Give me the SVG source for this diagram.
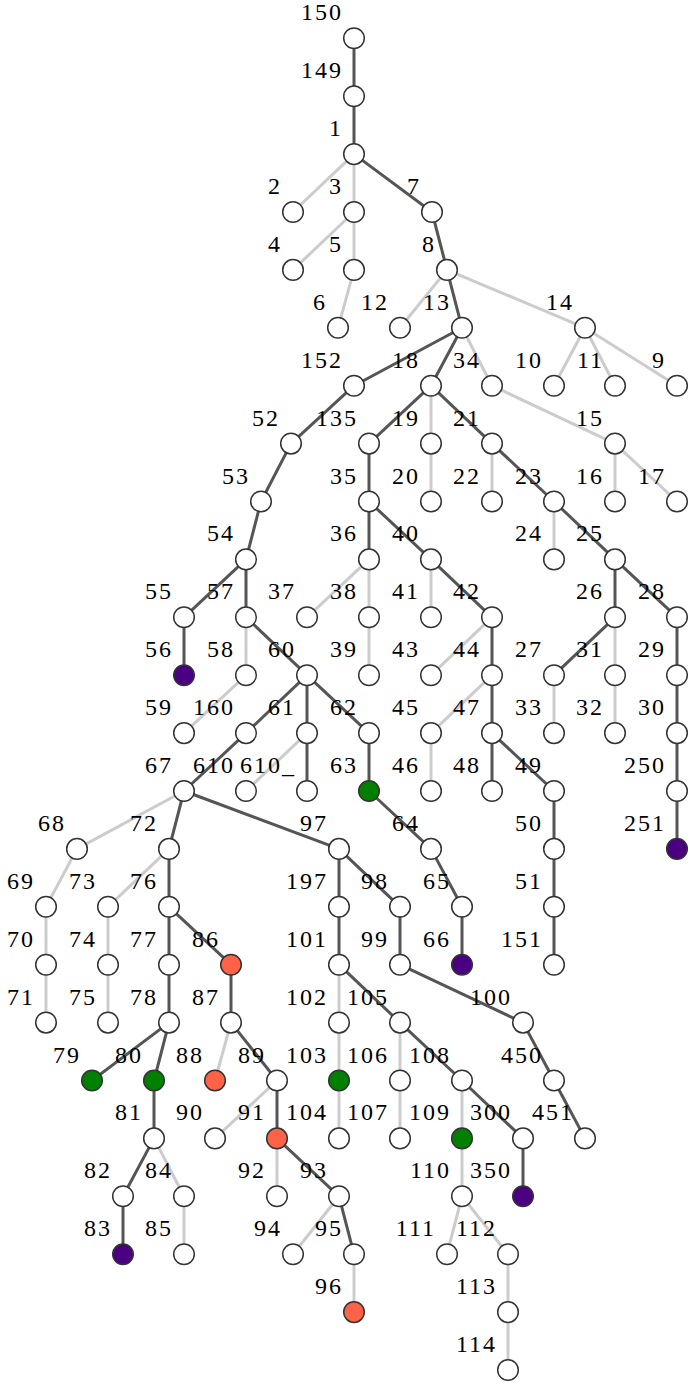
<svg xmlns="http://www.w3.org/2000/svg" width="691" height="1384" viewBox="0 0 691 1384">
<style>
.d{stroke:#555;stroke-width:3}
.l{stroke:#ccc;stroke-width:3}
.n circle{fill:#fff;stroke:#333;stroke-width:1.5}
.g circle{fill:#008000}
.p circle{fill:#4b0082}
.r circle{fill:#ff6347}
</style>
<rect width="691" height="1384" fill="#fff"/>
<g id="connectors">
<line class="d" x1="354" y1="38.3" x2="354" y2="96.2"/>
<line class="d" x1="354" y1="96.2" x2="354" y2="154.1"/>
<line class="l" x1="354" y1="154.1" x2="293" y2="212"/>
<line class="l" x1="354" y1="154.1" x2="354" y2="212"/>
<line class="d" x1="354" y1="154.1" x2="432" y2="212"/>
<line class="l" x1="354" y1="212" x2="293" y2="269.9"/>
<line class="l" x1="354" y1="212" x2="354" y2="269.9"/>
<line class="d" x1="432" y1="212" x2="447" y2="269.9"/>
<line class="l" x1="354" y1="269.9" x2="338" y2="327.8"/>
<line class="l" x1="447" y1="269.9" x2="400" y2="327.8"/>
<line class="d" x1="447" y1="269.9" x2="462" y2="327.8"/>
<line class="l" x1="447" y1="269.9" x2="585" y2="327.8"/>
<line class="d" x1="462" y1="327.8" x2="354" y2="385.7"/>
<line class="d" x1="462" y1="327.8" x2="431" y2="385.7"/>
<line class="l" x1="462" y1="327.8" x2="492" y2="385.7"/>
<line class="l" x1="585" y1="327.8" x2="554" y2="385.7"/>
<line class="l" x1="585" y1="327.8" x2="615" y2="385.7"/>
<line class="l" x1="585" y1="327.8" x2="677" y2="385.7"/>
<line class="d" x1="354" y1="385.7" x2="291" y2="443.6"/>
<line class="d" x1="431" y1="385.7" x2="369" y2="443.6"/>
<line class="l" x1="431" y1="385.7" x2="431" y2="443.6"/>
<line class="d" x1="431" y1="385.7" x2="492" y2="443.6"/>
<line class="l" x1="492" y1="385.7" x2="615" y2="443.6"/>
<line class="d" x1="291" y1="443.6" x2="261" y2="501.5"/>
<line class="d" x1="369" y1="443.6" x2="369" y2="501.5"/>
<line class="l" x1="431" y1="443.6" x2="431" y2="501.5"/>
<line class="l" x1="492" y1="443.6" x2="492" y2="501.5"/>
<line class="d" x1="492" y1="443.6" x2="554" y2="501.5"/>
<line class="l" x1="615" y1="443.6" x2="615" y2="501.5"/>
<line class="l" x1="615" y1="443.6" x2="677" y2="501.5"/>
<line class="d" x1="261" y1="501.5" x2="246" y2="559.4"/>
<line class="d" x1="369" y1="501.5" x2="369" y2="559.4"/>
<line class="d" x1="369" y1="501.5" x2="431" y2="559.4"/>
<line class="l" x1="554" y1="501.5" x2="554" y2="559.4"/>
<line class="d" x1="554" y1="501.5" x2="615" y2="559.4"/>
<line class="d" x1="246" y1="559.4" x2="184" y2="617.3"/>
<line class="d" x1="246" y1="559.4" x2="246" y2="617.3"/>
<line class="l" x1="369" y1="559.4" x2="307" y2="617.3"/>
<line class="l" x1="369" y1="559.4" x2="369" y2="617.3"/>
<line class="l" x1="431" y1="559.4" x2="431" y2="617.3"/>
<line class="d" x1="431" y1="559.4" x2="492" y2="617.3"/>
<line class="d" x1="615" y1="559.4" x2="615" y2="617.3"/>
<line class="d" x1="615" y1="559.4" x2="677" y2="617.3"/>
<line class="d" x1="184" y1="617.3" x2="184" y2="675.2"/>
<line class="l" x1="246" y1="617.3" x2="246" y2="675.2"/>
<line class="d" x1="246" y1="617.3" x2="307" y2="675.2"/>
<line class="l" x1="369" y1="617.3" x2="369" y2="675.2"/>
<line class="l" x1="492" y1="617.3" x2="431" y2="675.2"/>
<line class="d" x1="492" y1="617.3" x2="492" y2="675.2"/>
<line class="d" x1="615" y1="617.3" x2="554" y2="675.2"/>
<line class="l" x1="615" y1="617.3" x2="615" y2="675.2"/>
<line class="d" x1="677" y1="617.3" x2="677" y2="675.2"/>
<line class="l" x1="246" y1="675.2" x2="184" y2="733.1"/>
<line class="d" x1="307" y1="675.2" x2="246" y2="733.1"/>
<line class="d" x1="307" y1="675.2" x2="307" y2="733.1"/>
<line class="d" x1="307" y1="675.2" x2="369" y2="733.1"/>
<line class="l" x1="492" y1="675.2" x2="431" y2="733.1"/>
<line class="d" x1="492" y1="675.2" x2="492" y2="733.1"/>
<line class="l" x1="554" y1="675.2" x2="554" y2="733.1"/>
<line class="l" x1="615" y1="675.2" x2="615" y2="733.1"/>
<line class="d" x1="677" y1="675.2" x2="677" y2="733.1"/>
<line class="d" x1="246" y1="733.1" x2="184" y2="791"/>
<line class="l" x1="307" y1="733.1" x2="246" y2="791"/>
<line class="d" x1="307" y1="733.1" x2="307" y2="791"/>
<line class="d" x1="369" y1="733.1" x2="369" y2="791"/>
<line class="l" x1="431" y1="733.1" x2="431" y2="791"/>
<line class="d" x1="492" y1="733.1" x2="492" y2="791"/>
<line class="d" x1="492" y1="733.1" x2="554" y2="791"/>
<line class="d" x1="677" y1="733.1" x2="677" y2="791"/>
<line class="l" x1="184" y1="791" x2="77" y2="848.9"/>
<line class="d" x1="184" y1="791" x2="169" y2="848.9"/>
<line class="d" x1="184" y1="791" x2="339" y2="848.9"/>
<line class="d" x1="369" y1="791" x2="431" y2="848.9"/>
<line class="d" x1="554" y1="791" x2="554" y2="848.9"/>
<line class="d" x1="677" y1="791" x2="677" y2="848.9"/>
<line class="l" x1="77" y1="848.9" x2="46" y2="906.8"/>
<line class="l" x1="169" y1="848.9" x2="108" y2="906.8"/>
<line class="d" x1="169" y1="848.9" x2="169" y2="906.8"/>
<line class="d" x1="339" y1="848.9" x2="339" y2="906.8"/>
<line class="d" x1="339" y1="848.9" x2="400" y2="906.8"/>
<line class="d" x1="431" y1="848.9" x2="462" y2="906.8"/>
<line class="d" x1="554" y1="848.9" x2="554" y2="906.8"/>
<line class="l" x1="46" y1="906.8" x2="46" y2="964.7"/>
<line class="l" x1="108" y1="906.8" x2="108" y2="964.7"/>
<line class="d" x1="169" y1="906.8" x2="169" y2="964.7"/>
<line class="d" x1="169" y1="906.8" x2="231" y2="964.7"/>
<line class="d" x1="339" y1="906.8" x2="339" y2="964.7"/>
<line class="d" x1="400" y1="906.8" x2="400" y2="964.7"/>
<line class="d" x1="462" y1="906.8" x2="462" y2="964.7"/>
<line class="d" x1="554" y1="906.8" x2="554" y2="964.7"/>
<line class="l" x1="46" y1="964.7" x2="46" y2="1022.6"/>
<line class="l" x1="108" y1="964.7" x2="108" y2="1022.6"/>
<line class="d" x1="169" y1="964.7" x2="169" y2="1022.6"/>
<line class="d" x1="231" y1="964.7" x2="231" y2="1022.6"/>
<line class="l" x1="339" y1="964.7" x2="339" y2="1022.6"/>
<line class="d" x1="339" y1="964.7" x2="400" y2="1022.6"/>
<line class="d" x1="400" y1="964.7" x2="523" y2="1022.6"/>
<line class="d" x1="169" y1="1022.6" x2="92" y2="1080.5"/>
<line class="d" x1="169" y1="1022.6" x2="154" y2="1080.5"/>
<line class="l" x1="231" y1="1022.6" x2="215" y2="1080.5"/>
<line class="d" x1="231" y1="1022.6" x2="277" y2="1080.5"/>
<line class="l" x1="339" y1="1022.6" x2="339" y2="1080.5"/>
<line class="l" x1="400" y1="1022.6" x2="400" y2="1080.5"/>
<line class="d" x1="400" y1="1022.6" x2="462" y2="1080.5"/>
<line class="d" x1="523" y1="1022.6" x2="554" y2="1080.5"/>
<line class="d" x1="154" y1="1080.5" x2="154" y2="1138.4"/>
<line class="l" x1="277" y1="1080.5" x2="215" y2="1138.4"/>
<line class="d" x1="277" y1="1080.5" x2="277" y2="1138.4"/>
<line class="l" x1="339" y1="1080.5" x2="339" y2="1138.4"/>
<line class="l" x1="400" y1="1080.5" x2="400" y2="1138.4"/>
<line class="l" x1="462" y1="1080.5" x2="462" y2="1138.4"/>
<line class="d" x1="462" y1="1080.5" x2="523" y2="1138.4"/>
<line class="d" x1="554" y1="1080.5" x2="585" y2="1138.4"/>
<line class="d" x1="154" y1="1138.4" x2="123" y2="1196.3"/>
<line class="l" x1="154" y1="1138.4" x2="184" y2="1196.3"/>
<line class="l" x1="277" y1="1138.4" x2="277" y2="1196.3"/>
<line class="d" x1="277" y1="1138.4" x2="339" y2="1196.3"/>
<line class="l" x1="462" y1="1138.4" x2="462" y2="1196.3"/>
<line class="d" x1="523" y1="1138.4" x2="523" y2="1196.3"/>
<line class="d" x1="123" y1="1196.3" x2="123" y2="1254.2"/>
<line class="l" x1="184" y1="1196.3" x2="184" y2="1254.2"/>
<line class="l" x1="339" y1="1196.3" x2="293" y2="1254.2"/>
<line class="d" x1="339" y1="1196.3" x2="354" y2="1254.2"/>
<line class="l" x1="462" y1="1196.3" x2="447" y2="1254.2"/>
<line class="l" x1="462" y1="1196.3" x2="508" y2="1254.2"/>
<line class="l" x1="354" y1="1254.2" x2="354" y2="1312.1"/>
<line class="l" x1="508" y1="1254.2" x2="508" y2="1312.1"/>
<line class="l" x1="508" y1="1312.1" x2="508" y2="1370"/>
</g>
<g id="nodes" font-family="Liberation Serif, Times New Roman, serif" font-size="24" letter-spacing="2" fill="#000" text-anchor="end">
<g id="n150" class="n" transform="translate(354,38.3)"><circle r="10.3"/><text x="-11" y="-18">150</text></g>
<g id="n149" class="n" transform="translate(354,96.2)"><circle r="10.3"/><text x="-11" y="-18">149</text></g>
<g id="n1" class="n" transform="translate(354,154.1)"><circle r="10.3"/><text x="-11" y="-18">1</text></g>
<g id="n2" class="n" transform="translate(293,212)"><circle r="10.3"/><text x="-11" y="-18">2</text></g>
<g id="n3" class="n" transform="translate(354,212)"><circle r="10.3"/><text x="-11" y="-18">3</text></g>
<g id="n7" class="n" transform="translate(432,212)"><circle r="10.3"/><text x="-11" y="-18">7</text></g>
<g id="n4" class="n" transform="translate(293,269.9)"><circle r="10.3"/><text x="-11" y="-18">4</text></g>
<g id="n5" class="n" transform="translate(354,269.9)"><circle r="10.3"/><text x="-11" y="-18">5</text></g>
<g id="n8" class="n" transform="translate(447,269.9)"><circle r="10.3"/><text x="-11" y="-18">8</text></g>
<g id="n6" class="n" transform="translate(338,327.8)"><circle r="10.3"/><text x="-11" y="-18">6</text></g>
<g id="n12" class="n" transform="translate(400,327.8)"><circle r="10.3"/><text x="-11" y="-18">12</text></g>
<g id="n13" class="n" transform="translate(462,327.8)"><circle r="10.3"/><text x="-11" y="-18">13</text></g>
<g id="n14" class="n" transform="translate(585,327.8)"><circle r="10.3"/><text x="-11" y="-18">14</text></g>
<g id="n152" class="n" transform="translate(354,385.7)"><circle r="10.3"/><text x="-11" y="-18">152</text></g>
<g id="n18" class="n" transform="translate(431,385.7)"><circle r="10.3"/><text x="-11" y="-18">18</text></g>
<g id="n34" class="n" transform="translate(492,385.7)"><circle r="10.3"/><text x="-11" y="-18">34</text></g>
<g id="n10" class="n" transform="translate(554,385.7)"><circle r="10.3"/><text x="-11" y="-18">10</text></g>
<g id="n11" class="n" transform="translate(615,385.7)"><circle r="10.3"/><text x="-11" y="-18">11</text></g>
<g id="n9" class="n" transform="translate(677,385.7)"><circle r="10.3"/><text x="-11" y="-18">9</text></g>
<g id="n52" class="n" transform="translate(291,443.6)"><circle r="10.3"/><text x="-11" y="-18">52</text></g>
<g id="n135" class="n" transform="translate(369,443.6)"><circle r="10.3"/><text x="-11" y="-18">135</text></g>
<g id="n19" class="n" transform="translate(431,443.6)"><circle r="10.3"/><text x="-11" y="-18">19</text></g>
<g id="n21" class="n" transform="translate(492,443.6)"><circle r="10.3"/><text x="-11" y="-18">21</text></g>
<g id="n15" class="n" transform="translate(615,443.6)"><circle r="10.3"/><text x="-11" y="-18">15</text></g>
<g id="n53" class="n" transform="translate(261,501.5)"><circle r="10.3"/><text x="-11" y="-18">53</text></g>
<g id="n35" class="n" transform="translate(369,501.5)"><circle r="10.3"/><text x="-11" y="-18">35</text></g>
<g id="n20" class="n" transform="translate(431,501.5)"><circle r="10.3"/><text x="-11" y="-18">20</text></g>
<g id="n22" class="n" transform="translate(492,501.5)"><circle r="10.3"/><text x="-11" y="-18">22</text></g>
<g id="n23" class="n" transform="translate(554,501.5)"><circle r="10.3"/><text x="-11" y="-18">23</text></g>
<g id="n16" class="n" transform="translate(615,501.5)"><circle r="10.3"/><text x="-11" y="-18">16</text></g>
<g id="n17" class="n" transform="translate(677,501.5)"><circle r="10.3"/><text x="-11" y="-18">17</text></g>
<g id="n54" class="n" transform="translate(246,559.4)"><circle r="10.3"/><text x="-11" y="-18">54</text></g>
<g id="n36" class="n" transform="translate(369,559.4)"><circle r="10.3"/><text x="-11" y="-18">36</text></g>
<g id="n40" class="n" transform="translate(431,559.4)"><circle r="10.3"/><text x="-11" y="-18">40</text></g>
<g id="n24" class="n" transform="translate(554,559.4)"><circle r="10.3"/><text x="-11" y="-18">24</text></g>
<g id="n25" class="n" transform="translate(615,559.4)"><circle r="10.3"/><text x="-11" y="-18">25</text></g>
<g id="n55" class="n" transform="translate(184,617.3)"><circle r="10.3"/><text x="-11" y="-18">55</text></g>
<g id="n57" class="n" transform="translate(246,617.3)"><circle r="10.3"/><text x="-11" y="-18">57</text></g>
<g id="n37" class="n" transform="translate(307,617.3)"><circle r="10.3"/><text x="-11" y="-18">37</text></g>
<g id="n38" class="n" transform="translate(369,617.3)"><circle r="10.3"/><text x="-11" y="-18">38</text></g>
<g id="n41" class="n" transform="translate(431,617.3)"><circle r="10.3"/><text x="-11" y="-18">41</text></g>
<g id="n42" class="n" transform="translate(492,617.3)"><circle r="10.3"/><text x="-11" y="-18">42</text></g>
<g id="n26" class="n" transform="translate(615,617.3)"><circle r="10.3"/><text x="-11" y="-18">26</text></g>
<g id="n28" class="n" transform="translate(677,617.3)"><circle r="10.3"/><text x="-11" y="-18">28</text></g>
<g id="n56" class="n p" transform="translate(184,675.2)"><circle r="10.3"/><text x="-11" y="-18">56</text></g>
<g id="n58" class="n" transform="translate(246,675.2)"><circle r="10.3"/><text x="-11" y="-18">58</text></g>
<g id="n60" class="n" transform="translate(307,675.2)"><circle r="10.3"/><text x="-11" y="-18">60</text></g>
<g id="n39" class="n" transform="translate(369,675.2)"><circle r="10.3"/><text x="-11" y="-18">39</text></g>
<g id="n43" class="n" transform="translate(431,675.2)"><circle r="10.3"/><text x="-11" y="-18">43</text></g>
<g id="n44" class="n" transform="translate(492,675.2)"><circle r="10.3"/><text x="-11" y="-18">44</text></g>
<g id="n27" class="n" transform="translate(554,675.2)"><circle r="10.3"/><text x="-11" y="-18">27</text></g>
<g id="n31" class="n" transform="translate(615,675.2)"><circle r="10.3"/><text x="-11" y="-18">31</text></g>
<g id="n29" class="n" transform="translate(677,675.2)"><circle r="10.3"/><text x="-11" y="-18">29</text></g>
<g id="n59" class="n" transform="translate(184,733.1)"><circle r="10.3"/><text x="-11" y="-18">59</text></g>
<g id="n160" class="n" transform="translate(246,733.1)"><circle r="10.3"/><text x="-11" y="-18">160</text></g>
<g id="n61" class="n" transform="translate(307,733.1)"><circle r="10.3"/><text x="-11" y="-18">61</text></g>
<g id="n62" class="n" transform="translate(369,733.1)"><circle r="10.3"/><text x="-11" y="-18">62</text></g>
<g id="n45" class="n" transform="translate(431,733.1)"><circle r="10.3"/><text x="-11" y="-18">45</text></g>
<g id="n47" class="n" transform="translate(492,733.1)"><circle r="10.3"/><text x="-11" y="-18">47</text></g>
<g id="n33" class="n" transform="translate(554,733.1)"><circle r="10.3"/><text x="-11" y="-18">33</text></g>
<g id="n32" class="n" transform="translate(615,733.1)"><circle r="10.3"/><text x="-11" y="-18">32</text></g>
<g id="n30" class="n" transform="translate(677,733.1)"><circle r="10.3"/><text x="-11" y="-18">30</text></g>
<g id="n67" class="n" transform="translate(184,791)"><circle r="10.3"/><text x="-11" y="-18">67</text></g>
<g id="n610" class="n" transform="translate(246,791)"><circle r="10.3"/><text x="-11" y="-18">610</text></g>
<g id="n610_" class="n" transform="translate(307,791)"><circle r="10.3"/><text x="-11" y="-18">610_</text></g>
<g id="n63" class="n g" transform="translate(369,791)"><circle r="10.3"/><text x="-11" y="-18">63</text></g>
<g id="n46" class="n" transform="translate(431,791)"><circle r="10.3"/><text x="-11" y="-18">46</text></g>
<g id="n48" class="n" transform="translate(492,791)"><circle r="10.3"/><text x="-11" y="-18">48</text></g>
<g id="n49" class="n" transform="translate(554,791)"><circle r="10.3"/><text x="-11" y="-18">49</text></g>
<g id="n250" class="n" transform="translate(677,791)"><circle r="10.3"/><text x="-11" y="-18">250</text></g>
<g id="n68" class="n" transform="translate(77,848.9)"><circle r="10.3"/><text x="-11" y="-18">68</text></g>
<g id="n72" class="n" transform="translate(169,848.9)"><circle r="10.3"/><text x="-11" y="-18">72</text></g>
<g id="n97" class="n" transform="translate(339,848.9)"><circle r="10.3"/><text x="-11" y="-18">97</text></g>
<g id="n64" class="n" transform="translate(431,848.9)"><circle r="10.3"/><text x="-11" y="-18">64</text></g>
<g id="n50" class="n" transform="translate(554,848.9)"><circle r="10.3"/><text x="-11" y="-18">50</text></g>
<g id="n251" class="n p" transform="translate(677,848.9)"><circle r="10.3"/><text x="-11" y="-18">251</text></g>
<g id="n69" class="n" transform="translate(46,906.8)"><circle r="10.3"/><text x="-11" y="-18">69</text></g>
<g id="n73" class="n" transform="translate(108,906.8)"><circle r="10.3"/><text x="-11" y="-18">73</text></g>
<g id="n76" class="n" transform="translate(169,906.8)"><circle r="10.3"/><text x="-11" y="-18">76</text></g>
<g id="n197" class="n" transform="translate(339,906.8)"><circle r="10.3"/><text x="-11" y="-18">197</text></g>
<g id="n98" class="n" transform="translate(400,906.8)"><circle r="10.3"/><text x="-11" y="-18">98</text></g>
<g id="n65" class="n" transform="translate(462,906.8)"><circle r="10.3"/><text x="-11" y="-18">65</text></g>
<g id="n51" class="n" transform="translate(554,906.8)"><circle r="10.3"/><text x="-11" y="-18">51</text></g>
<g id="n70" class="n" transform="translate(46,964.7)"><circle r="10.3"/><text x="-11" y="-18">70</text></g>
<g id="n74" class="n" transform="translate(108,964.7)"><circle r="10.3"/><text x="-11" y="-18">74</text></g>
<g id="n77" class="n" transform="translate(169,964.7)"><circle r="10.3"/><text x="-11" y="-18">77</text></g>
<g id="n86" class="n r" transform="translate(231,964.7)"><circle r="10.3"/><text x="-11" y="-18">86</text></g>
<g id="n101" class="n" transform="translate(339,964.7)"><circle r="10.3"/><text x="-11" y="-18">101</text></g>
<g id="n99" class="n" transform="translate(400,964.7)"><circle r="10.3"/><text x="-11" y="-18">99</text></g>
<g id="n66" class="n p" transform="translate(462,964.7)"><circle r="10.3"/><text x="-11" y="-18">66</text></g>
<g id="n151" class="n" transform="translate(554,964.7)"><circle r="10.3"/><text x="-11" y="-18">151</text></g>
<g id="n71" class="n" transform="translate(46,1022.6)"><circle r="10.3"/><text x="-11" y="-18">71</text></g>
<g id="n75" class="n" transform="translate(108,1022.6)"><circle r="10.3"/><text x="-11" y="-18">75</text></g>
<g id="n78" class="n" transform="translate(169,1022.6)"><circle r="10.3"/><text x="-11" y="-18">78</text></g>
<g id="n87" class="n" transform="translate(231,1022.6)"><circle r="10.3"/><text x="-11" y="-18">87</text></g>
<g id="n102" class="n" transform="translate(339,1022.6)"><circle r="10.3"/><text x="-11" y="-18">102</text></g>
<g id="n105" class="n" transform="translate(400,1022.6)"><circle r="10.3"/><text x="-11" y="-18">105</text></g>
<g id="n100" class="n" transform="translate(523,1022.6)"><circle r="10.3"/><text x="-11" y="-18">100</text></g>
<g id="n79" class="n g" transform="translate(92,1080.5)"><circle r="10.3"/><text x="-11" y="-18">79</text></g>
<g id="n80" class="n g" transform="translate(154,1080.5)"><circle r="10.3"/><text x="-11" y="-18">80</text></g>
<g id="n88" class="n r" transform="translate(215,1080.5)"><circle r="10.3"/><text x="-11" y="-18">88</text></g>
<g id="n89" class="n" transform="translate(277,1080.5)"><circle r="10.3"/><text x="-11" y="-18">89</text></g>
<g id="n103" class="n g" transform="translate(339,1080.5)"><circle r="10.3"/><text x="-11" y="-18">103</text></g>
<g id="n106" class="n" transform="translate(400,1080.5)"><circle r="10.3"/><text x="-11" y="-18">106</text></g>
<g id="n108" class="n" transform="translate(462,1080.5)"><circle r="10.3"/><text x="-11" y="-18">108</text></g>
<g id="n450" class="n" transform="translate(554,1080.5)"><circle r="10.3"/><text x="-11" y="-18">450</text></g>
<g id="n81" class="n" transform="translate(154,1138.4)"><circle r="10.3"/><text x="-11" y="-18">81</text></g>
<g id="n90" class="n" transform="translate(215,1138.4)"><circle r="10.3"/><text x="-11" y="-18">90</text></g>
<g id="n91" class="n r" transform="translate(277,1138.4)"><circle r="10.3"/><text x="-11" y="-18">91</text></g>
<g id="n104" class="n" transform="translate(339,1138.4)"><circle r="10.3"/><text x="-11" y="-18">104</text></g>
<g id="n107" class="n" transform="translate(400,1138.4)"><circle r="10.3"/><text x="-11" y="-18">107</text></g>
<g id="n109" class="n g" transform="translate(462,1138.4)"><circle r="10.3"/><text x="-11" y="-18">109</text></g>
<g id="n300" class="n" transform="translate(523,1138.4)"><circle r="10.3"/><text x="-11" y="-18">300</text></g>
<g id="n451" class="n" transform="translate(585,1138.4)"><circle r="10.3"/><text x="-11" y="-18">451</text></g>
<g id="n82" class="n" transform="translate(123,1196.3)"><circle r="10.3"/><text x="-11" y="-18">82</text></g>
<g id="n84" class="n" transform="translate(184,1196.3)"><circle r="10.3"/><text x="-11" y="-18">84</text></g>
<g id="n92" class="n" transform="translate(277,1196.3)"><circle r="10.3"/><text x="-11" y="-18">92</text></g>
<g id="n93" class="n" transform="translate(339,1196.3)"><circle r="10.3"/><text x="-11" y="-18">93</text></g>
<g id="n110" class="n" transform="translate(462,1196.3)"><circle r="10.3"/><text x="-11" y="-18">110</text></g>
<g id="n350" class="n p" transform="translate(523,1196.3)"><circle r="10.3"/><text x="-11" y="-18">350</text></g>
<g id="n83" class="n p" transform="translate(123,1254.2)"><circle r="10.3"/><text x="-11" y="-18">83</text></g>
<g id="n85" class="n" transform="translate(184,1254.2)"><circle r="10.3"/><text x="-11" y="-18">85</text></g>
<g id="n94" class="n" transform="translate(293,1254.2)"><circle r="10.3"/><text x="-11" y="-18">94</text></g>
<g id="n95" class="n" transform="translate(354,1254.2)"><circle r="10.3"/><text x="-11" y="-18">95</text></g>
<g id="n111" class="n" transform="translate(447,1254.2)"><circle r="10.3"/><text x="-11" y="-18">111</text></g>
<g id="n112" class="n" transform="translate(508,1254.2)"><circle r="10.3"/><text x="-11" y="-18">112</text></g>
<g id="n96" class="n r" transform="translate(354,1312.1)"><circle r="10.3"/><text x="-11" y="-18">96</text></g>
<g id="n113" class="n" transform="translate(508,1312.1)"><circle r="10.3"/><text x="-11" y="-18">113</text></g>
<g id="n114" class="n" transform="translate(508,1370)"><circle r="10.3"/><text x="-11" y="-18">114</text></g>
</g>
</svg>
